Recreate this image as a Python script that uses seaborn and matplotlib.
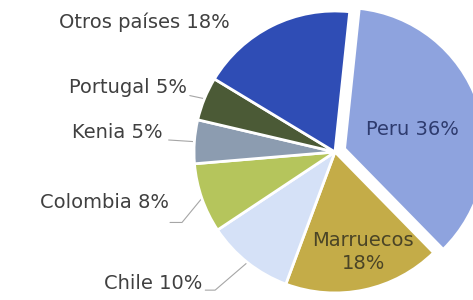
import numpy as np
import matplotlib
matplotlib.use("Agg")
import matplotlib.pyplot as plt
import seaborn as sns

# data
countries = ["Peru", "Marruecos", "Chile", "Colombia", "Kenia", "Portugal", "Otros países"]
shares = [36, 18, 10, 8, 5, 5, 18]
colors = ["#8EA3DE", "#C4AC48", "#D5E1F7", "#B5C55C", "#8C9CB0", "#4B5A36", "#2F4DB5"]
explode = [0.072, 0, 0, 0, 0, 0, 0]

# label layout (data units, pie radius = 1)
inside = {
    "Peru": (0.55, 0.16),
    "Marruecos": (0.20, -0.71),
}
inside_colors = {"Peru": "#2E3B6E", "Marruecos": "#4A4426"}
outside = {
    # name: (text x (right edge), text y, leader start, elbow)
    "Chile": (-0.94, -0.93, (-0.92, -0.98), (-0.85, -0.98)),
    "Colombia": (-1.18, -0.36, (-1.17, -0.50), (-1.085, -0.50)),
    "Kenia": (-1.22, 0.135, (-1.18, 0.085), (-1.18, 0.085)),
    "Portugal": (-1.05, 0.455, (-1.03, 0.40), (-1.03, 0.40)),
}

sns.set_theme(style="white")
plt.rcParams["font.family"] = ["DejaVu Sans"]

fig = plt.figure(figsize=(4.73, 3.0), dpi=100)
ax = fig.add_axes([0, 0, 1, 1])

wedges, _ = ax.pie(
    shares,
    colors=colors,
    explode=explode,
    startangle=84,
    counterclock=False,
    wedgeprops=dict(edgecolor="white", linewidth=2),
)

text_kw = dict(fontsize=14, color="#404040")

for name, share, w in zip(countries, shares, wedges):
    label = f"{name} {share}%"
    if name in inside:
        x, y = inside[name]
        txt = f"{name}\n{share}%" if name == "Marruecos" else label
        ax.text(x, y, txt, ha="center", va="center", fontsize=14,
                color=inside_colors[name], linespacing=1.3)
    elif name in outside:
        tx, ty, start, elbow = outside[name]
        ax.text(tx, ty, label, ha="right", va="center", **text_kw)
        mid = np.deg2rad((w.theta1 + w.theta2) / 2)
        cx, cy = w.center
        end = (cx + np.cos(mid) * w.r, cy + np.sin(mid) * w.r)
        ax.plot([start[0], elbow[0], end[0]], [start[1], elbow[1], end[1]],
                color="#A6A6A6", lw=0.8, zorder=0)
    else:
        ax.text(-1.35, 0.92, label, ha="center", va="center", **text_kw)

ax.set_xlim(-2.376, 0.979)
ax.set_ylim(-1.050, 1.078)
ax.set_aspect("equal")
ax.axis("off")

fig.savefig("out.png", dpi=100, facecolor="white")
